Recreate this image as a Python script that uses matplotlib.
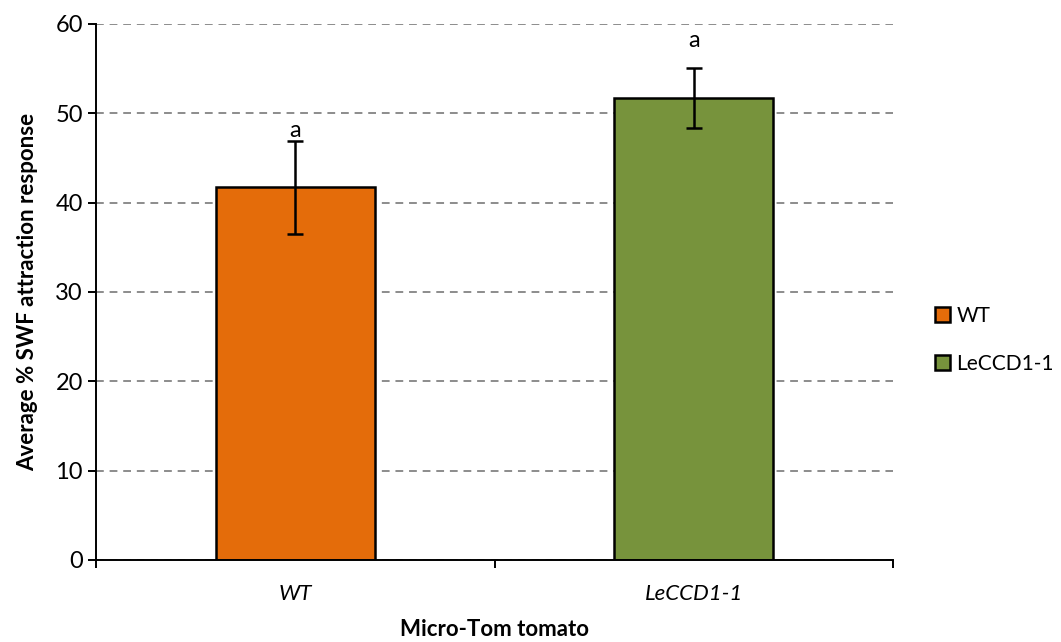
import matplotlib
matplotlib.use("Agg")
import matplotlib.pyplot as plt
from matplotlib.patches import Patch
import numpy as np

plt.rcParams["font.family"] = ["Lato", "DejaVu Sans"]

# data
genotypes = ["WT", "LeCCD1-1"]
means = [41.7, 51.7]
errors = [5.2, 3.35]
letters = ["a", "a"]
letter_y = [48.1, 58.2]
colors = ["#E46C0A", "#77933C"]

fig = plt.figure(figsize=(10.61, 6.42), dpi=100)
ax = fig.add_axes([96/1061, 82/642, (893-96)/1061, (560-24)/642])

x = np.arange(len(genotypes))
ax.bar(x, means, width=0.4, color=colors, edgecolor="black", linewidth=1.8, zorder=3)
ax.errorbar(x, means, yerr=errors, fmt="none", ecolor="black", elinewidth=1.8,
            capsize=5.5, capthick=1.8, zorder=4)
for xi, lab, ly in zip(x, letters, letter_y):
    ax.text(xi, ly, lab, ha="center", va="center", fontsize=17, zorder=5)

ax.set_xlim(-0.5, 1.5)
ax.set_ylim(0, 60)
ax.set_yticks(np.arange(0, 61, 10))
ax.yaxis.grid(True, linestyle=(0, (4, 3)), color="#8c8c8c", linewidth=1.4, zorder=0)
ax.tick_params(axis="y", labelsize=17, length=6, width=1.4, direction="out")

ax.set_xticks(x)
ax.set_xticklabels(genotypes, fontsize=16, style="italic")
ax.tick_params(axis="x", which="major", length=0, pad=17)
ax.set_xticks([-0.5, 0.5, 1.5], minor=True)
ax.tick_params(axis="x", which="minor", length=6, width=1.4, direction="out")

for s in ["top", "right"]:
    ax.spines[s].set_visible(False)
for s in ["left", "bottom"]:
    ax.spines[s].set_linewidth(1.4)
ax.spines["bottom"].set_zorder(5)

ax.set_xlabel("Micro-Tom tomato", fontsize=16, fontweight="bold", labelpad=11)
ax.set_ylabel("Average % SWF attraction response", fontsize=16, fontweight="bold", labelpad=12)

handles = [Patch(facecolor=c, edgecolor="black", linewidth=1.8) for c in colors]
fig.legend(handles, genotypes, loc="center left", bbox_to_anchor=(922/1061, 1 - 340/642),
           frameon=False, fontsize=15, handlelength=0.75, handleheight=0.75,
           handletextpad=0.3, labelspacing=1.35, borderaxespad=0.2)

plt.savefig("out.png", dpi=100)
